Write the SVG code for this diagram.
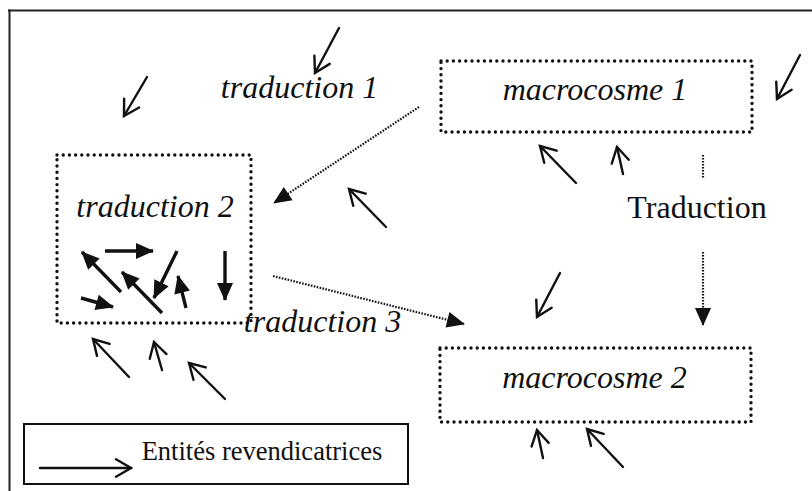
<svg xmlns="http://www.w3.org/2000/svg" width="812" height="491" viewBox="0 0 812 491">
<defs>
<marker id="open" markerUnits="userSpaceOnUse" orient="auto" refX="0" refY="0" markerWidth="40" markerHeight="40" overflow="visible">
<path d="M-15,-8.7 L0,0 L-15,8.7" fill="none" stroke="#111" stroke-width="2.4" stroke-linecap="round" stroke-linejoin="miter"/>
</marker>
<marker id="solid" markerUnits="userSpaceOnUse" orient="auto" refX="0" refY="0" markerWidth="40" markerHeight="40" overflow="visible">
<path d="M-17,-8 L1,0 L-17,8 Z" fill="#111"/>
</marker>
<marker id="dothead" markerUnits="userSpaceOnUse" orient="auto" refX="0" refY="0" markerWidth="40" markerHeight="40" overflow="visible">
<path d="M-17,-8 L1,0 L-17,8 Z" fill="#111"/>
</marker>
</defs>
<style>
.frame{stroke:#222;stroke-width:2;fill:none}
.box{fill:none;stroke:#111;stroke-width:3.4;stroke-dasharray:0 6.2;stroke-linecap:round}
.lbl{font-family:"Liberation Serif","Times New Roman",serif;font-style:italic;font-size:32px;fill:#111;text-anchor:middle}
.up{font-family:"Liberation Serif","Times New Roman",serif;font-size:32px;fill:#111;text-anchor:middle}
.leg{font-family:"Liberation Serif","Times New Roman",serif;font-size:26.5px;fill:#111;text-anchor:middle}
.oa{stroke:#111;stroke-width:2.4;fill:none;stroke-linecap:round;marker-end:url(#open)}
.sa{stroke:#111;stroke-width:3.4;fill:none;marker-end:url(#solid)}
.dc{stroke:#111;stroke-width:2.2;fill:none;stroke-dasharray:1.6 1.4;marker-end:url(#dothead)}
.dl{stroke:#111;stroke-width:2.2;fill:none;stroke-dasharray:1.6 1.4}
</style>
<rect width="812" height="491" fill="#fff"/>
<g id="frame">
<line class="frame" x1="8" y1="10.5" x2="812" y2="10.5"/>
<line class="frame" x1="9.5" y1="9.5" x2="9.5" y2="491"/>
</g>
<g id="traduction1">
<text class="lbl" x="299.5" y="98">traduction 1</text>
</g>
<g id="traduction2">
<rect class="box" x="57" y="155" width="194" height="168"/>
<text class="lbl" x="155" y="217">traduction 2</text>
<line class="sa" x1="121" y1="292" x2="82" y2="252"/>
<line class="sa" x1="105" y1="251" x2="153" y2="251"/>
<line class="sa" x1="177" y1="251" x2="154" y2="298"/>
<line class="sa" x1="162" y1="313" x2="122" y2="272"/>
<line class="sa" x1="186" y1="308" x2="178" y2="276"/>
<line class="sa" x1="81" y1="298" x2="113" y2="307"/>
<line class="sa" x1="225" y1="251" x2="225" y2="300"/>
</g>
<g id="macrocosme1">
<rect class="box" x="441" y="61" width="311" height="71"/>
<text class="lbl" x="595" y="100">macrocosme 1</text>
</g>
<g id="traduction-label">
<text class="up" x="697" y="218">Traduction</text>
</g>
<g id="traduction3">
<text class="lbl" x="322.5" y="332">traduction 3</text>
</g>
<g id="macrocosme2">
<rect class="box" x="440" y="348" width="311" height="74"/>
<text class="lbl" x="594.5" y="388">macrocosme 2</text>
</g>
<g id="legend">
<rect x="24" y="424" width="384" height="60" fill="none" stroke="#111" stroke-width="2"/>
<line class="oa" x1="40" y1="468" x2="131" y2="468"/>
<text class="leg" x="262" y="460">Entités revendicatrices</text>
</g>
<g id="connectors">
<line class="dc" x1="419" y1="107" x2="274" y2="203"/>
<line class="dc" x1="273" y1="276" x2="464" y2="324"/>
<line class="dl" x1="703" y1="155" x2="703" y2="179"/>
<line class="dc" x1="703" y1="252" x2="703" y2="325"/>
</g>
<g id="entities">
<line class="oa" x1="339" y1="28" x2="315" y2="73"/>
<line class="oa" x1="147" y1="77" x2="124" y2="116"/>
<line class="oa" x1="386" y1="227" x2="349" y2="189"/>
<line class="oa" x1="800" y1="55" x2="777" y2="99"/>
<line class="oa" x1="576" y1="183" x2="540" y2="146"/>
<line class="oa" x1="623" y1="174" x2="617" y2="147"/>
<line class="oa" x1="560" y1="273" x2="537" y2="317"/>
<line class="oa" x1="543" y1="458" x2="537" y2="430"/>
<line class="oa" x1="623" y1="467" x2="587" y2="429"/>
<line class="oa" x1="129" y1="377" x2="93" y2="339"/>
<line class="oa" x1="162" y1="370" x2="154" y2="342"/>
<line class="oa" x1="225" y1="399" x2="189" y2="363"/>
</g>
</svg>
